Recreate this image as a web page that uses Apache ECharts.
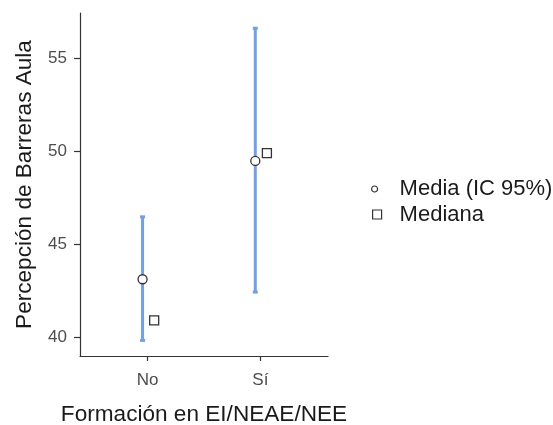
<!DOCTYPE html>
<html><head><meta charset="utf-8">
<script src="https://cdn.jsdelivr.net/npm/echarts@6/dist/echarts.min.js"></script>
<style>html,body{margin:0;padding:0;background:#fff}#c{width:553px;height:425px}</style>
</head><body><div id="c"></div>
<script>
const categories = ['No', 'Sí'];
const meanValues = [43.11, 49.48];
const ciLower = [39.82, 42.42];
const ciUpper = [46.47, 56.62];
const medianValues = [40.9, 49.9];
const yTicks = [40, 45, 50, 55];

const MEAN_SHIFT = -0.045, MED_SHIFT = 0.058;
const FONT = 'Liberation Sans, Arial, sans-serif';
const catPos = categories.map((c, i) => i + 1);
const legendText = {fontFamily: FONT, fontSize: 22, color: '#1a1a1a'};

const chart = echarts.init(document.getElementById('c'), null, {renderer: 'canvas'});
chart.setOption({
  animation: false,
  backgroundColor: '#fff',
  grid: {left: 80, right: 225, top: 13, bottom: 69, containLabel: false, outerBoundsMode: 'none'},
  legend: [
    {
      left: 371, top: 178, padding: 0, itemWidth: 6, itemHeight: 6,
      textStyle: Object.assign({padding: [0, 0, 0, 17]}, legendText),
      data: [{name: 'Media (IC 95%)', icon: 'circle', itemStyle: {color: '#fff', borderColor: '#333', borderWidth: 1.2}}]
    },
    {
      left: 372, top: 203.5, padding: 0, itemWidth: 9, itemHeight: 9,
      textStyle: Object.assign({padding: [0, 0, 0, 13]}, legendText),
      data: [{name: 'Mediana', icon: 'rect', itemStyle: {color: '#fff', borderColor: '#333', borderWidth: 1.2}}]
    }
  ],
  xAxis: {
    type: 'value', min: 0.4, max: 2.6,
    name: 'Formación en EI/NEAE/NEE', nameLocation: 'middle', nameGap: 47,
    nameTextStyle: {fontFamily: FONT, fontSize: 22.6, color: '#1a1a1a'},
    axisLine: {show: true, lineStyle: {color: '#333', width: 1.2}},
    axisTick: {show: true, customValues: catPos, length: 5, lineStyle: {color: '#333', width: 1.2}},
    axisLabel: {customValues: catPos, formatter: v => categories[Math.round(v) - 1] || '',
      fontFamily: FONT, fontSize: 17, color: '#4d4d4d', margin: 16},
    splitLine: {show: false}
  },
  yAxis: {
    type: 'value', min: 38.98, max: 57.44,
    name: 'Percepción de Barreras Aula', nameLocation: 'middle', nameGap: 44, nameRotate: 90,
    nameTextStyle: {fontFamily: FONT, fontSize: 22.6, color: '#1a1a1a'},
    axisLine: {show: true, lineStyle: {color: '#333', width: 1.2}},
    axisTick: {show: true, customValues: yTicks, length: 6, lineStyle: {color: '#333', width: 1.2}},
    axisLabel: {customValues: yTicks, fontFamily: FONT, fontSize: 17, color: '#4d4d4d', margin: 13},
    splitLine: {show: false}
  },
  series: [
    {
      type: 'custom', name: 'ci', silent: true, z: 1,
      data: catPos.map((p, i) => [p + MEAN_SHIFT, ciLower[i], ciUpper[i]]),
      renderItem: (params, api) => {
        const lo = api.coord([api.value(0), api.value(1)]);
        const hi = api.coord([api.value(0), api.value(2)]);
        const cw = 2.5;
        const st = {stroke: '#6f9ff0', lineWidth: 3};
        return {type: 'group', children: [
          {type: 'line', shape: {x1: lo[0], y1: lo[1], x2: hi[0], y2: hi[1]}, style: st},
          {type: 'line', shape: {x1: lo[0] - cw, y1: lo[1], x2: lo[0] + cw, y2: lo[1]}, style: st},
          {type: 'line', shape: {x1: hi[0] - cw, y1: hi[1], x2: hi[0] + cw, y2: hi[1]}, style: st}
        ]};
      }
    },
    {
      type: 'scatter', name: 'Media (IC 95%)', symbol: 'circle', symbolSize: 9, z: 3,
      itemStyle: {color: '#fff', borderColor: '#333', borderWidth: 1.3, opacity: 1},
      data: catPos.map((p, i) => [p + MEAN_SHIFT, meanValues[i]])
    },
    {
      type: 'scatter', name: 'Mediana', symbol: 'rect', symbolSize: 9, z: 3,
      itemStyle: {color: '#fff', borderColor: '#333', borderWidth: 1.3, opacity: 1},
      data: catPos.map((p, i) => [p + MED_SHIFT, medianValues[i]])
    }
  ]
});
</script></body></html>
